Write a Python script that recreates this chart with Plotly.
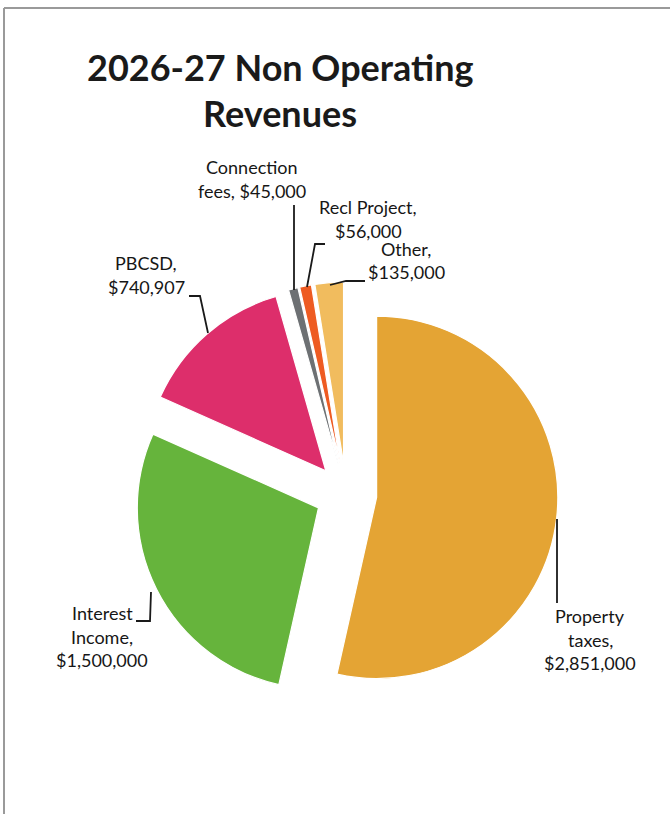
import plotly.graph_objects as go

# Revenue categories and amounts, in clockwise order from 12 o'clock
categories = ["Property taxes", "Interest Income", "PBCSD",
              "Connection fees", "Recl Project", "Other"]
amounts = [2851000, 1500000, 740907, 45000, 56000, 135000]
slice_colors = ["#E4A434", "#66B43C", "#DD2E6B", "#6D7073", "#EE5B22", "#F1BC5E"]

# Label text for each slice (line breaks as set on the page)
label_lines = {
    "Property taxes": ["Property", "taxes,"],
    "Interest Income": ["Interest", "Income,"],
    "PBCSD": ["PBCSD,"],
    "Connection fees": ["Connection", "fees,"],
    "Recl Project": ["Recl Project,"],
    "Other": ["Other,"],
}

W, H = 670, 814


def px(x):
    return x / W


def py(y):
    return 1 - y / H


def money(v):
    return "${:,.0f}".format(v)


# Pie placement: square domain around the pie centre
cx, cy, half = 346, 494, 212

fig = go.Figure()
fig.add_trace(go.Pie(
    labels=categories,
    values=amounts,
    sort=False,
    direction="clockwise",
    rotation=0,
    pull=[0.17] * len(amounts),
    marker=dict(colors=slice_colors, line=dict(color="white", width=1.2)),
    textinfo="none",
    hoverinfo="label+value",
    showlegend=False,
    domain=dict(x=[px(cx - half), px(cx + half)], y=[py(cy + half), py(cy - half)]),
))

LABEL_FONT = dict(family="Lato, 'Open Sans', sans-serif", size=18, color="#161616")

# Label anchor (centre x, first-line baseline y) and leader line path for each slice
label_layout = {
    "Property taxes": ((590, 624), [(557, 519), (557, 603)]),
    "Interest Income": ((102, 621), [(136, 621), (150, 621), (151, 592)]),
    "PBCSD": ((146, 271), [(189, 296), (200, 296), (208, 333)]),
    "Connection fees": ((252, 175), [(294, 205), (294, 290)]),
    "Recl Project": ((368, 215), [(325, 244), (315, 244), (307, 287)]),
    "Other": ((406, 257), [(365, 281), (346, 281), (330, 285)]),
}

annotations = []
shapes = []
line_gap = 23.5
for cat, val in zip(categories, amounts):
    (lx, ly), path = label_layout[cat]
    lines = list(label_lines[cat])
    if cat == "Connection fees":
        lines[-1] = lines[-1] + " " + money(val)
    else:
        lines.append(money(val))
    for i, t in enumerate(lines):
        annotations.append(dict(
            text=t, x=px(lx), y=py(ly + i * line_gap), xref="paper", yref="paper",
            xanchor="center", yanchor="bottom", yshift=-5, showarrow=False,
            font=LABEL_FONT,
        ))
    d = "M " + " L ".join("{},{}".format(px(x), py(y)) for x, y in path)
    shapes.append(dict(type="path", path=d, xref="paper", yref="paper",
                       line=dict(color="#1a1a1a", width=1.8)))

# Chart title, two centred lines
TITLE_FONT = dict(family="Lato, 'Open Sans', sans-serif", size=36, color="#1a1a1a",
                  weight="bold")
for t, base in [("2026-27 Non Operating", 83), ("Revenues", 129)]:
    annotations.append(dict(
        text=t, x=px(280), y=py(base), xref="paper", yref="paper",
        xanchor="center", yanchor="bottom", yshift=-8, showarrow=False,
        font=TITLE_FONT,
    ))

# Page frame: top and left rules
shapes.append(dict(type="line", x0=px(4), x1=1, y0=py(8), y1=py(8), xref="paper",
                   yref="paper", line=dict(color="#9a9a9a", width=2)))
shapes.append(dict(type="line", x0=px(4), x1=px(4), y0=py(8), y1=0, xref="paper",
                   yref="paper", line=dict(color="#9a9a9a", width=2)))

fig.update_layout(
    width=W, height=H,
    margin=dict(l=0, r=0, t=0, b=0),
    paper_bgcolor="white",
    plot_bgcolor="white",
    annotations=annotations,
    shapes=shapes,
)

fig.write_html("out.html")
